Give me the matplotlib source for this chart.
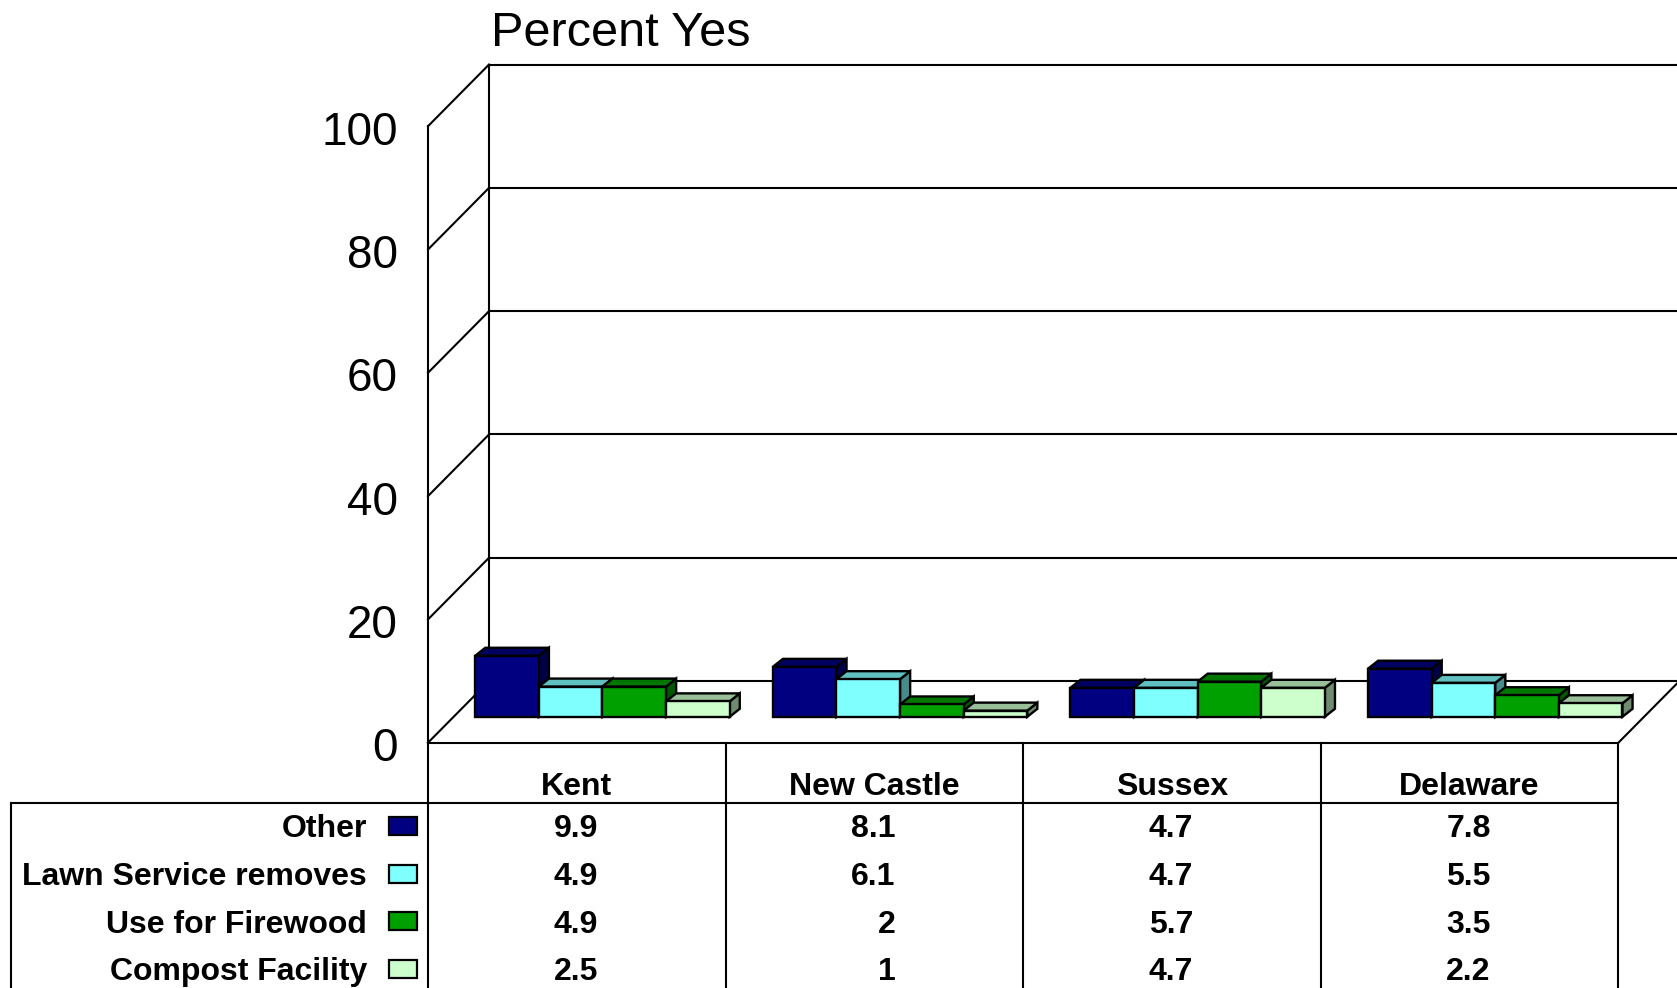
import numpy as np
import matplotlib.pyplot as plt
from matplotlib.patches import Polygon, Rectangle
from matplotlib.colors import to_rgb

plt.rcParams['font.family'] = ['Liberation Sans', 'DejaVu Sans']

# %% DATA
regions = ['Kent', 'New Castle', 'Sussex', 'Delaware']
series = ['Other', 'Lawn Service removes', 'Use for Firewood', 'Compost Facility']
other = [9.9, 8.1, 4.7, 7.8]
lawn = [4.9, 6.1, 4.7, 5.5]
firewood = [4.9, 2, 5.7, 3.5]
compost = [2.5, 1, 4.7, 2.2]
yticks = [0, 20, 40, 60, 80, 100]
title = 'Percent Yes'

values = [other, lawn, firewood, compost]
colors = ['#000080', '#80FFFF', '#00A000', '#CCFFCC']

# %% 3D look (floor depth in x-units / percent units)
DX, DY = 0.205, 10.0     # depth of the floor
f0 = 0.42                # bars sit this far back into the floor
bdx, bdy = 0.034, 1.3    # depth of a bar itself
gap = 0.145
bw = (1 - gap) / len(series)
lw_frame = 1.5


def shade(c, k):
    r, g, b = to_rgb(c)
    return (r * k, g * k, b * k)


fig = plt.figure(figsize=(16.77, 9.88), dpi=100)
ax = fig.add_axes([0.25522, 0.24828, 0.70984, 0.62399])
ax.set_xlim(0, 4)
ax.set_ylim(0, 100)
ax.axis('off')

tab = fig.add_axes([0.25522, 0.0, 0.70984, 0.24828])
tab.set_xlim(0, 4)
tab.set_ylim(5.1426, 0)
tab.axis('off')

n = len(regions)
line_kw = dict(color='black', lw=lw_frame, clip_on=False, solid_capstyle='projecting')

# walls and floor
for v in yticks:
    ax.plot([DX, n + DX], [v + DY, v + DY], **line_kw)
    ax.plot([0, DX], [v, v + DY], **line_kw)
ax.plot([0, 0], [0, 100], **line_kw)
ax.plot([DX, DX], [DY, 100 + DY], **line_kw)
ax.plot([0, n], [0, 0], **line_kw)
ax.plot([n, n + DX], [0, DY], **line_kw)

# y tick labels
for v in yticks:
    ax.text(-0.1008, v - 3.0, str(v), ha='right', va='baseline',
            fontsize=33, clip_on=False)

ax.text(0.213, 113.0, title, ha='left', va='baseline', fontsize=35, clip_on=False)

# bars
base = f0 * DY
for i in range(n):
    for j, vals in enumerate(values):
        v = vals[i]
        x0 = i + gap / 2 + j * bw + f0 * DX
        x1 = x0 + bw
        y0 = base
        y1 = base + v
        kw = dict(ec='black', lw=1.7, clip_on=False, zorder=3, joinstyle='miter')
        ax.add_patch(Polygon([(x1, y0), (x1, y1), (x1 + bdx, y1 + bdy), (x1 + bdx, y0 + bdy)],
                             fc=shade(colors[j], 0.55), **kw))
        ax.add_patch(Polygon([(x0, y1), (x1, y1), (x1 + bdx, y1 + bdy), (x0 + bdx, y1 + bdy)],
                             fc=shade(colors[j], 0.75), **kw))
        ax.add_patch(Rectangle((x0, y0), bw, v, fc=colors[j], **kw))

# %% data table
left = -1.401
hdr = 1.26
tab.plot([left, n], [hdr, hdr], **line_kw)
for i in range(n + 1):
    tab.plot([i, i], [0, 5.2], **line_kw)
tab.plot([left, left], [hdr, 5.2], **line_kw)

fs = 23
for i, name in enumerate(regions):
    tab.text(i + 0.5, 1.096, name, ha='center', va='baseline', fontsize=fs,
             fontweight='bold')

for j, (name, vals) in enumerate(zip(series, values)):
    yb = 1.983 + j
    tab.text(-0.205, yb, name, ha='right', va='baseline', fontsize=fs,
             fontweight='bold', clip_on=False)
    tab.add_patch(Rectangle((-0.1327, yb - 0.24 - 0.1885), 0.0974, 0.377,
                            fc=colors[j], ec='black', lw=1.6, clip_on=False))
    for i, v in enumerate(vals):
        tab.text(i + 0.571, yb, f'{v:g}', ha='right', va='baseline', fontsize=fs,
                 fontweight='bold')

fig.savefig('out.png', dpi=100)
